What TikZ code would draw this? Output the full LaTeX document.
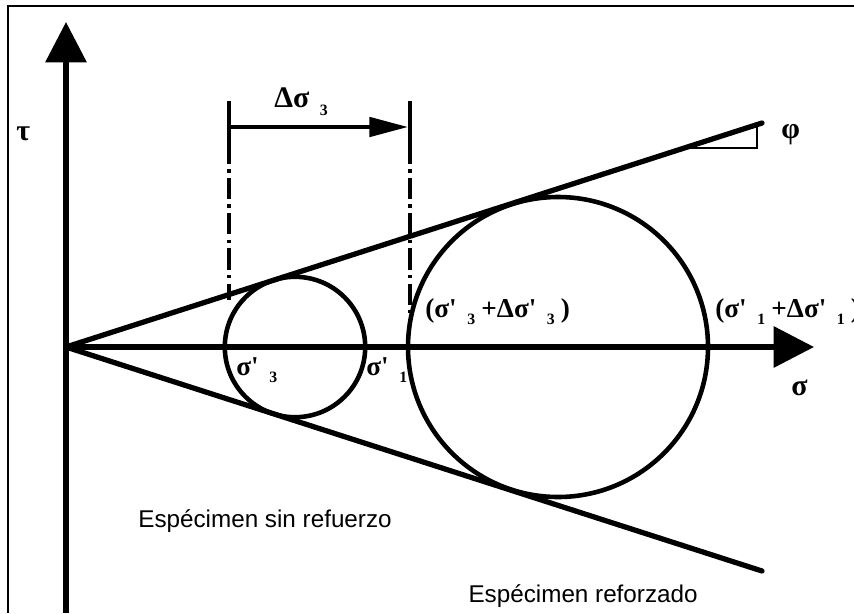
\documentclass[tikz,border=0pt]{standalone}
\usepackage{fontspec}
\setmainfont{Liberation Serif}
\newfontfamily\labelsans{Liberation Sans}
\usetikzlibrary{positioning, arrows.meta, calc}
\newcommand{\lowsub}[1]{\hspace{6pt}\raisebox{-4.5pt}{\fontsize{9}{10}\selectfont #1}}
\newcommand{\pr}{\textquotesingle}

\begin{document}
\begin{tikzpicture}[x=0.02cm, y=0.02cm,
  axis/.style={line width=3pt, -{Triangle[length=23pt, width=23pt]}},
  envelope/.style={line width=3pt, line cap=round},
  mohr/.style={line width=2.6pt},
  tick/.style={line width=2.8pt},
  guide/.style={line width=2pt, dash pattern=on 12pt off 3pt on 2pt off 3pt},
  deltaarrow/.style={line width=2.2pt, -{Triangle[length=22pt, width=11pt]}},
  lbl/.style={inner sep=0pt, anchor=base west, font=\fontsize{15.5}{17}\selectfont\bfseries},
  note/.style={inner sep=0pt, font=\labelsans\fontsize{13.8}{16}\selectfont}]

\useasboundingbox (0,0) rectangle (854,613);

% frame
\draw[line width=1.1pt] (854,607) -- (8,607) -- (8,0);

% axes
\coordinate (O) at (66,266);
\coordinate (ybot) at (66,0);
\coordinate (ytop) at (66,591);
\coordinate (xend) at (814,266);
\draw[axis] (ybot) -- (ytop);
\draw[axis] (O) -- (xend);

% failure envelopes
\coordinate (up) at (762,490);
\coordinate (lo) at (762,42);
\draw[envelope] (O) -- (up);
\draw[envelope] (O) -- (lo);

% angle
\coordinate (ang) at (684,465);
\coordinate (angc) at (757,465);
\coordinate (angt) at (757,488);
\draw[line width=1.5pt] (ang) -- (angc) -- (angt);
\node[lbl] (phi) at (781,475) {\fontsize{17}{19}\selectfont φ};

% circles
\coordinate (c1) at (295,266);
\coordinate (c2) at (558,266);
\draw[mohr] (c1) circle (70.2);
\draw[mohr] (c2) circle (150);

% shift of sigma 3
\coordinate (g1top) at (229,512);
\coordinate (g1mid) at (229,470);
\coordinate (g1bot) at (229,313);
\coordinate (g2top) at (410,512);
\coordinate (g2mid) at (410,470);
\coordinate (g2bot) at (410,290);
\coordinate (d1) at (229,486);
\coordinate (d2) at (408,486);
\draw[tick] (g1top) -- (g1mid);
\draw[tick] (g2top) -- (g2mid);
\draw[guide] (g1mid) -- (g1bot);
\draw[guide] (g2mid) -- (g2bot);
\draw[deltaarrow] (d1) -- (d2);
\node[lbl] (dsig) at (274,505) {\fontsize{17}{19}\selectfont Δσ\lowsub{3}};

% labels
\node[lbl] (tau) at (16,473) {\fontsize{17}{19}\selectfont τ};
\node[lbl] (sig) at (791,218) {\fontsize{17}{19}\selectfont σ};
\node[lbl] (s3) at (236,238) {σ\pr\lowsub{3}};
\node[lbl] (s1) at (366,238) {σ\pr\lowsub{1}};
\node[lbl] (s3d) at (425,296) {(σ\pr\lowsub{3}\hspace{3.5pt}+Δσ\pr\lowsub{3}\hspace{3.5pt})};
\node[lbl] (s1d) at (715,296) {(σ\pr\lowsub{1}\hspace{3.5pt}+Δσ\pr\lowsub{1}\hspace{3.5pt})};

\node[note, anchor=base west] (plain) at (138,86) {Espécimen sin refuerzo};
\node[note, anchor=base east] (reinf) at (698,11) {Espécimen reforzado};
\end{tikzpicture}
\end{document}
